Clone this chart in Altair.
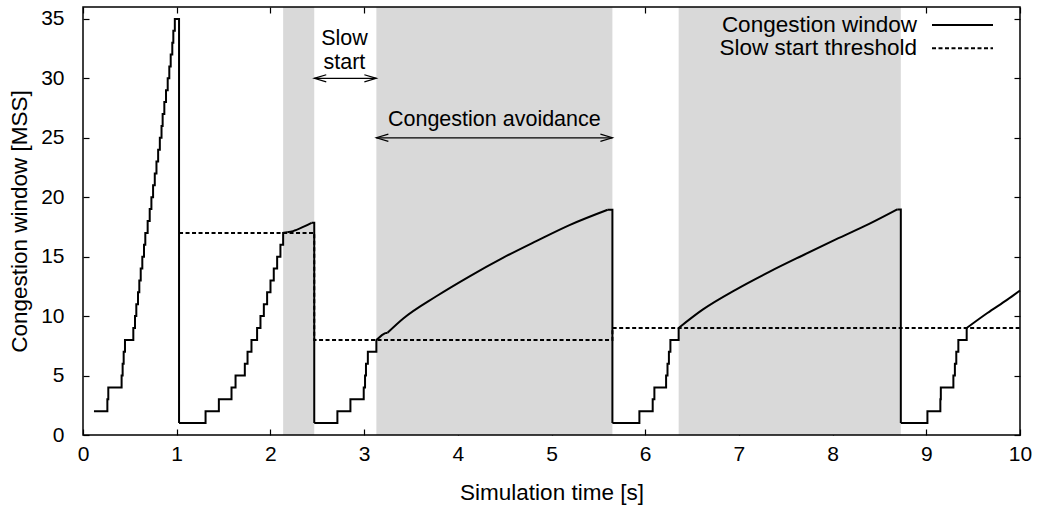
import altair as alt
import pandas as pd

FONT = "Liberation Sans"
FS = 21      # tick labels
FT = 22.5    # titles, legend
FN = 21.5    # notes

# ---------------- data ----------------
# loss events: cwnd drops to 1 MSS
drop_t = [1.025, 2.468, 5.65, 8.728]

# cycle 1 (slow start from cwnd = 2)
ss1_start_t, ss1_start_v = 0.117, 2
ss1_t = [0.26, 0.27, 0.412, 0.423, 0.434, 0.448, 0.537, 0.555, 0.569, 0.587,
         0.601, 0.616, 0.633, 0.651, 0.665, 0.69, 0.712, 0.73, 0.748, 0.766,
         0.784, 0.802, 0.82, 0.838, 0.85, 0.868, 0.886, 0.904, 0.921, 0.936,
         0.953, 0.964, 0.98]
ss1_v = [3, 4, 5, 6, 7, 8, 9, 10, 11, 12, 13, 14, 15, 16, 17, 18, 19, 20, 21, 22,
         23, 24, 25, 26, 27, 28, 29, 30, 31, 32, 33, 34, 35]
pre1_t, pre1_v = [], []
ca1_t, ca1_v = [], []

# cycle 2
ss2_t = [1.308, 1.45, 1.585, 1.628, 1.727, 1.756, 1.798, 1.858, 1.894, 1.93,
         1.965, 2.001, 2.036, 2.072, 2.107, 2.136]
ss2_v = [2, 3, 4, 5, 6, 7, 8, 9, 10, 11, 12, 13, 14, 15, 16, 17]
pre2_t, pre2_v = [2.18], [17.05]
ca2_t = [2.242, 2.35, 2.44]
ca2_v = [17.15, 17.5, 17.85]

# cycle 3
ss3_t = [2.715, 2.854, 2.996, 3.01, 3.02, 3.04, 3.131]
ss3_v = [2, 3, 4, 5, 6, 7, 8]
pre3_t, pre3_v = [3.19, 3.22, 3.25], [8.4, 8.55, 8.6]
ca3_t = [3.415, 3.771, 4.126, 4.481, 4.837, 5.192, 5.6]
ca3_v = [9.78, 11.67, 13.35, 14.9, 16.31, 17.66, 18.95]

# cycle 4
ss4_t = [5.938, 6.08, 6.098, 6.223, 6.238, 6.253, 6.269, 6.357]
ss4_v = [2, 3, 4, 5, 6, 7, 8, 9]
pre4_t, pre4_v = [], []
ca4_t = [6.613, 6.969, 7.324, 7.679, 8.035, 8.39, 8.69]
ca4_v = [10.54, 12.23, 13.72, 15.1, 16.45, 17.75, 18.97]

# cycle 5
ss5_t = [9.012, 9.15, 9.155, 9.289, 9.305, 9.32, 9.342, 9.431]
ss5_v = [2, 3, 4, 5, 6, 7, 8, 9]
pre5_t, pre5_v = [], []
ca5_t = [9.652, 9.865, 10.0]
ca5_v = [10.26, 11.39, 12.15]

# slow start threshold (step function)
ssth_t = [1.025, 2.468, 5.65, 10.0]
ssth_v = [17, 8, 9, 9]

# shaded congestion-avoidance periods
shade_start = [2.136, 3.131, 6.357]
shade_end = [2.468, 5.65, 8.728]

# annotations
arrow_from = [2.468, 3.131]
arrow_to = [3.131, 5.65]
arrow_y = [30, 25]
note_text = ["Slow", "start", "Congestion avoidance"]
note_x = [2.79, 2.79, 4.39]
note_y = [32.8, 30.82, 25.95]

legend_labels = ["Congestion window", "Slow start threshold"]

x_ticks = list(range(0, 11))
y_ticks = [0, 5, 10, 15, 20, 25, 30, 35]

# ---------------- build the cwnd trace tables ----------------
cycles = [
    (ss1_start_t, ss1_start_v, ss1_t, ss1_v, pre1_t, pre1_v, ca1_t, ca1_v, drop_t[0]),
    (drop_t[0], 1, ss2_t, ss2_v, pre2_t, pre2_v, ca2_t, ca2_v, drop_t[1]),
    (drop_t[1], 1, ss3_t, ss3_v, pre3_t, pre3_v, ca3_t, ca3_v, drop_t[2]),
    (drop_t[2], 1, ss4_t, ss4_v, pre4_t, pre4_v, ca4_t, ca4_v, drop_t[3]),
    (drop_t[3], 1, ss5_t, ss5_v, pre5_t, pre5_v, ca5_t, ca5_v, None),
]
step_rows = []   # staircase parts + drops (straight segments)
curve_rows = []  # congestion avoidance curves (smooth)
for k, (st, sv, ts, vs, pts_, pvs, cts, cvs, end) in enumerate(cycles):
    seg = "s%d" % k
    step_rows.append((seg, st, sv))
    cur = sv
    for t, v in zip(ts, vs):
        step_rows.append((seg, t, cur))
        step_rows.append((seg, t, v))
        cur = v
    for t, v in zip(pts_, pvs):
        step_rows.append((seg, t, v))
        cur = v
    last_t = step_rows[-1][1]
    if cts:
        cseg = "c%d" % k
        curve_rows.append((cseg, last_t, cur))
        for t, v in zip(cts, cvs):
            curve_rows.append((cseg, t, v))
            cur = v
        last_t = cts[-1]
        seg = "d%d" % k
        step_rows.append((seg, last_t, cur))
    if end is not None:
        step_rows.append((seg, end, cur))
        step_rows.append((seg, end, 1))

step_df = pd.DataFrame(step_rows, columns=["seg", "t", "cwnd"])
step_df["i"] = range(len(step_df))
curve_df = pd.DataFrame(curve_rows, columns=["seg", "t", "cwnd"])
curve_df["i"] = range(len(curve_df))
ssth_df = pd.DataFrame({"t": ssth_t, "v": ssth_v})
shade_df = pd.DataFrame({"s": shade_start, "e": shade_end})
arrow_df = pd.DataFrame({"a": arrow_from, "b": arrow_to, "y": arrow_y})
note_df = pd.DataFrame({"txt": note_text, "x": note_x, "y": note_y})

W, H = 937, 428
xs = alt.Scale(domain=[0, 10], nice=False, zero=False)
ys = alt.Scale(domain=[0, 36], nice=False, zero=False)

common_axis = dict(domain=False, grid=False, tickSize=6, offset=-6, tickColor="black",
                   tickWidth=1.2, labelFont=FONT, labelFontSize=FS, labelColor="black",
                   titleFont=FONT, titleFontSize=FT, titleColor="black",
                   titleFontWeight="normal", labelFlush=False)

x_bottom = alt.Axis(orient="bottom", values=x_ticks, labelPadding=8,
                    title="Simulation time [s]", titlePadding=17, **common_axis)
y_left = alt.Axis(orient="left", values=y_ticks, labelPadding=19,
                  title="Congestion window [MSS]", titlePadding=9, **common_axis)
x_top = alt.Axis(orient="top", values=x_ticks, labels=False, title="", **common_axis)
y_right = alt.Axis(orient="right", values=y_ticks, labels=False, title="", **common_axis)

shade = alt.Chart(shade_df).mark_rect(color="#d9d9d9").encode(
    x=alt.X("s:Q", scale=xs, axis=None), x2="e:Q")

ssth = alt.Chart(ssth_df).mark_line(interpolate="step-after", color="black",
                                    strokeWidth=2, strokeDash=[4, 2.5]).encode(
    x=alt.X("t:Q", scale=xs, axis=x_top),
    y=alt.Y("v:Q", scale=ys, axis=y_right))

cwnd_steps = alt.Chart(step_df).mark_line(color="black", strokeWidth=2,
                                          strokeJoin="miter").encode(
    x=alt.X("t:Q", scale=xs, axis=x_bottom),
    y=alt.Y("cwnd:Q", scale=ys, axis=y_left),
    detail="seg:N",
    order="i:Q")

cwnd_curves = alt.Chart(curve_df).mark_line(color="black", strokeWidth=2,
                                            interpolate="monotone").encode(
    x=alt.X("t:Q", scale=xs, axis=None),
    y=alt.Y("cwnd:Q", scale=ys, axis=None),
    detail="seg:N",
    order="i:Q")

arrows = alt.Chart(arrow_df).mark_rule(color="black", strokeWidth=1.2).encode(
    x=alt.X("a:Q", scale=xs, axis=None), x2="b:Q",
    y=alt.Y("y:Q", scale=ys, axis=None))
head_l = alt.Chart(arrow_df).mark_point(shape="M 1 -0.3 L 0 0 L 1 0.3", size=576,
                                         filled=False, color="black", strokeWidth=1.2,
                                         opacity=1).encode(
    x=alt.X("a:Q", scale=xs, axis=None), y=alt.Y("y:Q", scale=ys, axis=None))
head_r = alt.Chart(arrow_df).mark_point(shape="M -1 -0.3 L 0 0 L -1 0.3", size=576,
                                         filled=False, color="black", strokeWidth=1.2,
                                         opacity=1).encode(
    x=alt.X("b:Q", scale=xs, axis=None), y=alt.Y("y:Q", scale=ys, axis=None))
notes = alt.Chart(note_df).mark_text(font=FONT, fontSize=FN, color="black",
                                     align="center", baseline="alphabetic").encode(
    x=alt.X("x:Q", scale=xs, axis=None), y=alt.Y("y:Q", scale=ys, axis=None),
    text="txt:N")

leg_df = pd.DataFrame({"label": legend_labels})
leg_t1 = alt.Chart(leg_df.iloc[[0]]).mark_text(font=FONT, fontSize=FT, color="black",
                                               align="right", baseline="alphabetic").encode(
    x=alt.value(834), y=alt.value(24.9), text="label:N")
leg_t2 = alt.Chart(leg_df.iloc[[1]]).mark_text(font=FONT, fontSize=FT, color="black",
                                               align="right", baseline="alphabetic").encode(
    x=alt.value(834), y=alt.value(48.2), text="label:N")
leg_l1 = alt.Chart(leg_df.iloc[[0]]).mark_rule(color="black", strokeWidth=2).encode(
    x=alt.value(849), x2=alt.value(910), y=alt.value(18))
leg_l2 = alt.Chart(leg_df.iloc[[1]]).mark_rule(color="black", strokeWidth=2,
                                               strokeDash=[4, 2.5]).encode(
    x=alt.value(849), x2=alt.value(910), y=alt.value(41.3))

frame = alt.Chart(leg_df.iloc[[0]]).mark_rect(filled=False, stroke="black",
                                               strokeWidth=1.5).encode(
    x=alt.value(0), x2=alt.value(W), y=alt.value(0), y2=alt.value(H))

chart = alt.layer(shade, ssth, cwnd_steps, cwnd_curves, arrows, head_l, head_r, notes,
                  leg_t1, leg_t2, leg_l1, leg_l2, frame).resolve_axis(
    x="independent", y="independent").properties(
    width=W, height=H,
    autosize=alt.AutoSizeParams(type="none"),
    padding={"left": 83, "top": 7, "right": 19, "bottom": 72},
    background="white").configure_view(stroke=None)

chart.save("out.html", embed_options={"renderer": "svg", "actions": False})
